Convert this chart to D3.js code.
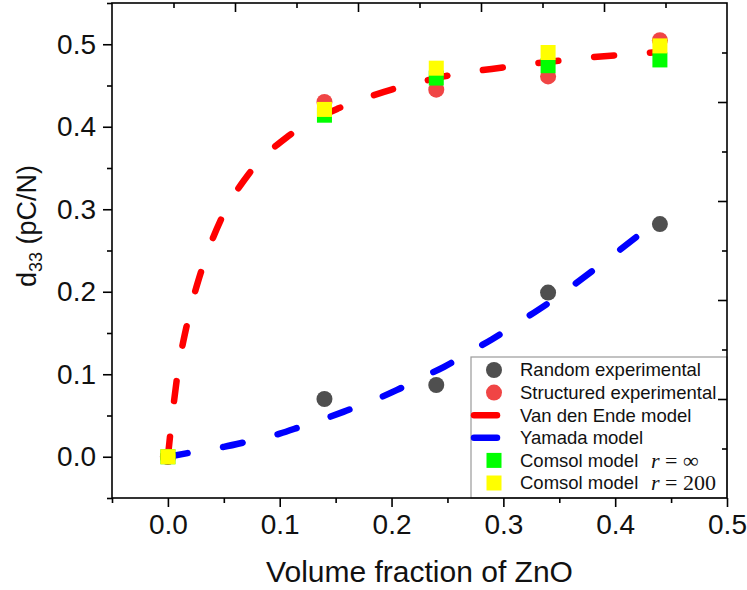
<!DOCTYPE html>
<html>
<head>
<meta charset="utf-8">
<script src="https://cdn.jsdelivr.net/npm/d3@7"></script>
<style>
  html, body { margin: 0; padding: 0; background: #fff; }
  svg { display: block; }
</style>
</head>
<body>
<svg id="chart" width="747" height="590"></svg>
<script>
// ---------------- data ----------------
const volumeFraction = [0, 0.14, 0.24, 0.34, 0.44];
const randomExperimental = [0, 0.070, 0.087, 0.199, 0.282];
const structuredExperimental = [0, 0.430, 0.445, 0.461, 0.505];
const comsolInf = [0, 0.414, 0.459, 0.474, 0.481];
const comsol200 = [0, 0.421, 0.471, 0.490, 0.498];

const vdeX = [0, 0.0024, 0.0083, 0.018, 0.031, 0.049, 0.073, 0.107, 0.13, 0.152, 0.177, 0.20, 0.225, 0.247, 0.30, 0.353, 0.377, 0.404, 0.426, 0.44];
const vdeY = [0, 0.031, 0.097, 0.166, 0.230, 0.292, 0.344, 0.388, 0.408, 0.422, 0.435, 0.445, 0.454, 0.461, 0.472, 0.4806, 0.484, 0.487, 0.489, 0.491];

const yamX = [0, 0.02, 0.05, 0.07, 0.10, 0.12, 0.14, 0.16, 0.185, 0.205, 0.227, 0.247, 0.27, 0.29, 0.314, 0.34, 0.39, 0.44];
const yamY = [0, 0.005, 0.012, 0.018, 0.028, 0.037, 0.046, 0.056, 0.069, 0.081, 0.096, 0.109, 0.127, 0.1425, 0.163, 0.186, 0.236, 0.289];

const xMajorTicks = [0, 0.1, 0.2, 0.3, 0.4, 0.5];
const xMinorTicks = [-0.05, 0.05, 0.15, 0.25, 0.35, 0.45];
const yMajorTicks = [0, 0.1, 0.2, 0.3, 0.4, 0.5];
const yMinorTicks = [-0.05, 0.05, 0.15, 0.25, 0.35, 0.45, 0.55];
const tickLabels = ["0.0", "0.1", "0.2", "0.3", "0.4", "0.5"];
const oppositeMajor = [2, 4, 6, 8];
const oppositeMinor = [1, 3, 5, 7, 9];

const legendLabels = ["Random experimental", "Structured experimental", "Van den Ende model", "Yamada model", "Comsol model", "Comsol model"];
const legendMath = [null, null, null, null, "∞", "200"];

// ---------------- layout ----------------
const L = 112, R = 727, T = 3, B = 498;
const FONT = "'Liberation Sans', Arial, sans-serif";
const C = {
  random: "#4f4f4f", structured: "#f04545", vde: "#ff0000", yam: "#0000ff",
  green: "#00ff00", yellow: "#ffff00"
};

const svg = d3.select("#chart");
const x = d3.scaleLinear().domain([-0.05, 0.5]).range([L, R]);
const y = d3.scaleLinear().domain([-0.05, 0.55]).range([B, T]);
const xTop = d3.scaleLinear().domain([0, 10]).range([L, R]);
const yRight = d3.scaleLinear().domain([0, 10]).range([T, B]);

const plot = svg.append("g");

// model curves
const line = d3.line().x(d => x(d[0])).y(d => y(d[1])).curve(d3.curveMonotoneX);
const vdePts = vdeX.map((v, i) => [v, vdeY[i]]);
const yamPts = yamX.map((v, i) => [v, yamY[i]]);
plot.append("path").attr("d", line(vdePts)).attr("fill", "none")
  .attr("stroke", C.vde).attr("stroke-width", 6.5).attr("stroke-linecap", "round")
  .attr("stroke-dasharray", "20,36");
plot.append("path").attr("d", line(yamPts)).attr("fill", "none")
  .attr("stroke", C.yam).attr("stroke-width", 6.5).attr("stroke-linecap", "round")
  .attr("stroke-dasharray", "20,36");

// experimental points
plot.selectAll(".rnd").data(volumeFraction).join("circle")
  .attr("cx", d => x(d)).attr("cy", (d, i) => y(randomExperimental[i])).attr("r", 8)
  .attr("fill", C.random);
plot.selectAll(".str").data(volumeFraction).join("circle")
  .attr("cx", d => x(d)).attr("cy", (d, i) => y(structuredExperimental[i])).attr("r", 8)
  .attr("fill", C.structured);

// comsol squares
const S = 15;
plot.selectAll(".cinf").data(volumeFraction).join("rect")
  .attr("x", d => x(d) - S / 2).attr("y", (d, i) => y(comsolInf[i]) - S / 2)
  .attr("width", S).attr("height", S).attr("fill", C.green);
plot.selectAll(".c200").data(volumeFraction).join("rect")
  .attr("x", d => x(d) - S / 2).attr("y", (d, i) => y(comsol200[i]) - S / 2)
  .attr("width", S).attr("height", S).attr("fill", C.yellow);

// legend
const lg = svg.append("g");
const lgTop = 357, lgLeft = 471, rowH = 22.6, row0 = 370;
lg.append("rect").attr("x", lgLeft).attr("y", lgTop).attr("width", R - lgLeft).attr("height", B - lgTop)
  .attr("fill", "#fff").attr("stroke", "#9a9a9a").attr("stroke-width", 1.2);
legendLabels.forEach((lab, i) => {
  const cy = row0 + i * rowH;
  const sx = 494;
  if (i === 0 || i === 1) {
    lg.append("circle").attr("cx", sx).attr("cy", cy).attr("r", 8)
      .attr("fill", i === 0 ? C.random : C.structured);
  } else if (i === 2 || i === 3) {
    lg.append("line").attr("x1", 474).attr("x2", 497).attr("y1", cy).attr("y2", cy)
      .attr("stroke", i === 2 ? C.vde : C.yam).attr("stroke-width", 6.5).attr("stroke-linecap", "round");
  } else {
    lg.append("rect").attr("x", sx - S / 2).attr("y", cy - S / 2).attr("width", S).attr("height", S)
      .attr("fill", i === 4 ? C.green : C.yellow);
  }
  lg.append("text").attr("x", 520).attr("y", cy).attr("dy", "0.35em")
    .attr("font-family", FONT).attr("font-size", 18.5).attr("fill", "#111").text(lab);
  if (legendMath[i]) {
    const t = lg.append("text").attr("x", 651).attr("y", cy).attr("dy", "0.33em")
      .attr("font-family", "'Liberation Serif', 'Times New Roman', serif").attr("font-size", 22).attr("fill", "#111");
    t.append("tspan").attr("font-style", "italic").text("r");
    t.append("tspan").text(" = " + legendMath[i]);
  }
});

// axes
function styleAxis(g) {
  g.select(".domain").remove();
  g.selectAll("line").attr("stroke", "#000").attr("stroke-width", 1.6);
  g.selectAll("text").attr("font-family", FONT).attr("font-size", 28).attr("fill", "#111");
}
svg.append("g").attr("transform", `translate(0,${B})`)
  .call(d3.axisBottom(x).tickValues(xMinorTicks).tickSize(5).tickFormat(""))
  .call(styleAxis);
svg.append("g").attr("transform", `translate(0,${B})`)
  .call(d3.axisBottom(x).tickValues(xMajorTicks).tickSize(9).tickPadding(7).tickFormat((d, i) => tickLabels[i]))
  .call(styleAxis);
svg.append("g").attr("transform", `translate(${L},0)`)
  .call(d3.axisLeft(y).tickValues(yMinorTicks).tickSize(5).tickFormat(""))
  .call(styleAxis);
svg.append("g").attr("transform", `translate(${L},0)`)
  .call(d3.axisLeft(y).tickValues(yMajorTicks).tickSize(9).tickPadding(7).tickFormat((d, i) => tickLabels[i]))
  .call(styleAxis);
svg.append("g").attr("transform", `translate(0,${T})`)
  .call(d3.axisTop(xTop).tickValues(oppositeMinor).tickSize(-5).tickFormat(""))
  .call(styleAxis);
svg.append("g").attr("transform", `translate(0,${T})`)
  .call(d3.axisTop(xTop).tickValues(oppositeMajor).tickSize(-9).tickFormat(""))
  .call(styleAxis);
svg.append("g").attr("transform", `translate(${R},0)`)
  .call(d3.axisRight(yRight).tickValues(oppositeMinor).tickSize(-5).tickFormat(""))
  .call(styleAxis);
svg.append("g").attr("transform", `translate(${R},0)`)
  .call(d3.axisRight(yRight).tickValues(oppositeMajor).tickSize(-9).tickFormat(""))
  .call(styleAxis);

// frame
svg.append("rect").attr("x", L).attr("y", T).attr("width", R - L).attr("height", B - T)
  .attr("fill", "none").attr("stroke", "#000").attr("stroke-width", 1.6);

// titles
svg.append("text").attr("x", (L + R) / 2).attr("y", 582).attr("text-anchor", "middle")
  .attr("font-family", FONT).attr("font-size", 30).attr("fill", "#111").text("Volume fraction of ZnO");
const yt = svg.append("text").attr("transform", `translate(36,226) rotate(-90)`)
  .attr("text-anchor", "middle").attr("font-family", FONT).attr("font-size", 27).attr("fill", "#111");
yt.append("tspan").text("d");
yt.append("tspan").attr("font-size", 18).attr("dy", 6).text("33");
yt.append("tspan").attr("dy", -6).text(" (pC/N)");
</script>
</body>
</html>
